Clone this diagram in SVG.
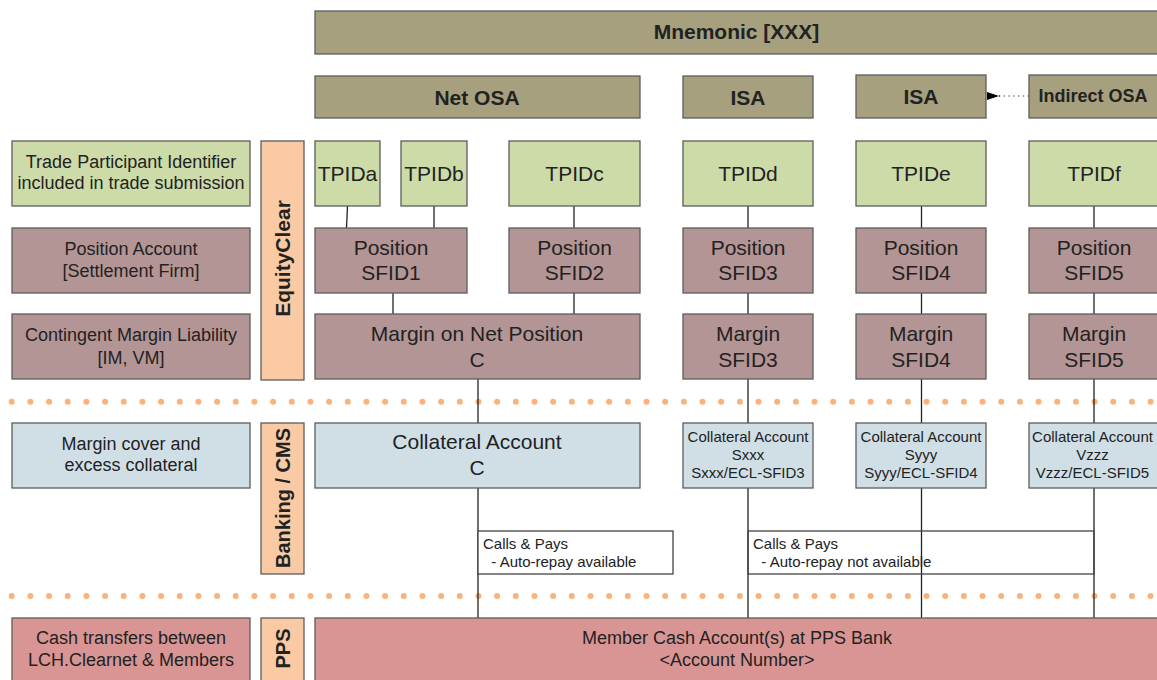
<svg xmlns="http://www.w3.org/2000/svg" width="1157" height="680" viewBox="0 0 1157 680">
<defs>
<style>
.box{stroke:#5c5c5c;stroke-width:1.3}
.olive{fill:#a6a07f}
.green{fill:#cddba9}
.mauve{fill:#b49595}
.blue{fill:#d0dfe6}
.peach{fill:#f9caa3}
.pink{fill:#d99593}
.t{font-family:"Liberation Sans",Arial,sans-serif;fill:#222;text-anchor:middle;dominant-baseline:central}
.hb{font-weight:bold;font-size:21px}
.big{font-size:21px}
.lab{font-size:18px}
.sm{font-size:15px}
.vb{font-weight:bold;font-size:20px}
.pre{text-anchor:start;white-space:pre}
.conn line{stroke:#222;stroke-width:1.3}
.dots{stroke:#f9b27b;stroke-width:6;stroke-linecap:round;stroke-dasharray:0 18.67}
</style>
<marker id="ah" viewBox="0 0 12 8" refX="0" refY="4" markerWidth="12" markerHeight="8" markerUnits="userSpaceOnUse" orient="auto">
<path d="M12,0 L0,4 L12,8 Z" fill="#000"/>
</marker>
</defs>
<rect width="1157" height="680" fill="#fff"/>

<!-- dotted separators -->
<line class="dots" x1="11.7" y1="401.7" x2="1160" y2="401.7"/>
<line class="dots" x1="11.7" y1="596" x2="1160" y2="596"/>

<!-- connectors -->
<g id="connectors" class="conn">
<line x1="347.5" y1="206" x2="346.5" y2="228"/>
<line x1="434" y1="206" x2="434" y2="228"/>
<line x1="574" y1="206" x2="574" y2="228"/>
<line x1="748" y1="206" x2="748" y2="228"/>
<line x1="921.5" y1="206" x2="921.5" y2="228"/>
<line x1="1094" y1="206" x2="1094" y2="228"/>
<line x1="393" y1="293" x2="393" y2="314"/>
<line x1="574" y1="293" x2="574" y2="314"/>
<line x1="748" y1="293" x2="748" y2="314"/>
<line x1="921.5" y1="293" x2="921.5" y2="314"/>
<line x1="1094" y1="293" x2="1094" y2="314"/>
<line x1="478" y1="379" x2="478" y2="423"/>
<line x1="748" y1="379" x2="748" y2="423"/>
<line x1="921.5" y1="379" x2="921.5" y2="423"/>
<line x1="1094" y1="379" x2="1094" y2="423"/>
<line x1="478" y1="488" x2="478" y2="618"/>
<line x1="748" y1="488" x2="748" y2="618"/>
<line x1="921.5" y1="488" x2="921.5" y2="618"/>
<line x1="1094" y1="488" x2="1094" y2="618"/>
<path d="M1029,96 L1000,96" stroke="#777" stroke-width="1.3" stroke-dasharray="1.3 3.5" fill="none"/>
<line x1="1000" y1="96" x2="999" y2="96" stroke="#000" marker-end="url(#ah)"/>
</g>

<!-- header -->
<g id="mnemonic"><rect class="box olive" x="315" y="11" width="850" height="43"/><text class="t hb" x="736.5" y="31.5">Mnemonic [XXX]</text></g>
<g id="netosa"><rect class="box olive" x="315" y="76" width="325" height="42"/><text class="t hb" x="477" y="97">Net OSA</text></g>
<g id="isa1"><rect class="box olive" x="683" y="76" width="130" height="42"/><text class="t hb" x="748" y="97">ISA</text></g>
<g id="isa2"><rect class="box olive" x="856" y="75" width="130" height="43"/><text class="t hb" x="921" y="96">ISA</text></g>
<g id="indirectosa"><rect class="box olive" x="1029" y="75" width="140" height="43"/><text class="t" style="font-weight:bold;font-size:18px" x="1093" y="96">Indirect OSA</text></g>

<!-- row labels -->
<g id="lab-tpid"><rect class="box green" x="12" y="141" width="238" height="65"/><text class="t lab" x="131" y="162">Trade Participant Identifier</text><text class="t lab" x="131" y="183">included in trade submission</text></g>
<g id="lab-pos"><rect class="box mauve" x="12" y="228" width="238" height="65"/><text class="t lab" x="131" y="248.5">Position Account</text><text class="t lab" x="131" y="271">[Settlement Firm]</text></g>
<g id="lab-margin"><rect class="box mauve" x="12" y="314" width="238" height="65"/><text class="t lab" x="131" y="335">Contingent Margin Liability</text><text class="t lab" x="131" y="357.5">[IM, VM]</text></g>
<g id="lab-coll"><rect class="box blue" x="12" y="423" width="238" height="65"/><text class="t lab" x="131" y="443.5">Margin cover and</text><text class="t lab" x="131" y="465">excess collateral</text></g>
<g id="lab-cash"><rect class="box pink" x="12" y="618" width="238" height="80"/><text class="t lab" x="131" y="638">Cash transfers between</text><text class="t lab" x="131" y="660">LCH.Clearnet &amp; Members</text></g>

<!-- vertical bars -->
<g id="bar-equityclear"><rect class="box peach" x="261" y="141" width="43" height="239"/><text class="t" style="font-weight:bold;font-size:21px" transform="translate(282.5,258.5) rotate(-90)">EquityClear</text></g>
<g id="bar-banking"><rect class="box peach" x="261" y="423" width="43" height="151"/><text class="t vb" transform="translate(282.5,498) rotate(-90)">Banking / CMS</text></g>
<g id="bar-pps"><rect class="box peach" x="261" y="618" width="43" height="80"/><text class="t vb" transform="translate(282.5,648.5) rotate(-90)">PPS</text></g>

<!-- TPIDs -->
<g id="tpida"><rect class="box green" x="315" y="141" width="65" height="65"/><text class="t big" x="347.5" y="173">TPIDa</text></g>
<g id="tpidb"><rect class="box green" x="401" y="141" width="66" height="65"/><text class="t big" x="434" y="173">TPIDb</text></g>
<g id="tpidc"><rect class="box green" x="509" y="141" width="131" height="65"/><text class="t big" x="574.5" y="173">TPIDc</text></g>
<g id="tpidd"><rect class="box green" x="683" y="141" width="130" height="65"/><text class="t big" x="748" y="173">TPIDd</text></g>
<g id="tpide"><rect class="box green" x="856" y="141" width="130" height="65"/><text class="t big" x="921" y="173">TPIDe</text></g>
<g id="tpidf"><rect class="box green" x="1029" y="141" width="140" height="65"/><text class="t big" x="1094" y="173">TPIDf</text></g>

<!-- Positions -->
<g id="pos1"><rect class="box mauve" x="315" y="228" width="152" height="65"/><text class="t big" x="391" y="247">Position</text><text class="t big" x="391" y="272">SFID1</text></g>
<g id="pos2"><rect class="box mauve" x="509" y="228" width="131" height="65"/><text class="t big" x="574.5" y="247">Position</text><text class="t big" x="574.5" y="272">SFID2</text></g>
<g id="pos3"><rect class="box mauve" x="683" y="228" width="130" height="65"/><text class="t big" x="748" y="247">Position</text><text class="t big" x="748" y="272">SFID3</text></g>
<g id="pos4"><rect class="box mauve" x="856" y="228" width="130" height="65"/><text class="t big" x="921" y="247">Position</text><text class="t big" x="921" y="272">SFID4</text></g>
<g id="pos5"><rect class="box mauve" x="1029" y="228" width="140" height="65"/><text class="t big" x="1094" y="247">Position</text><text class="t big" x="1094" y="272">SFID5</text></g>

<!-- Margins -->
<g id="marginnet"><rect class="box mauve" x="315" y="314" width="325" height="65"/><text class="t big" x="477" y="333.5">Margin on Net Position</text><text class="t big" x="477" y="359">C</text></g>
<g id="margin3"><rect class="box mauve" x="683" y="314" width="130" height="65"/><text class="t big" x="748" y="333.5">Margin</text><text class="t big" x="748" y="359">SFID3</text></g>
<g id="margin4"><rect class="box mauve" x="856" y="314" width="130" height="65"/><text class="t big" x="921" y="333.5">Margin</text><text class="t big" x="921" y="359">SFID4</text></g>
<g id="margin5"><rect class="box mauve" x="1029" y="314" width="140" height="65"/><text class="t big" x="1094" y="333.5">Margin</text><text class="t big" x="1094" y="359">SFID5</text></g>

<!-- Collateral -->
<g id="collc"><rect class="box blue" x="315" y="423" width="325" height="65"/><text class="t big" x="477" y="441">Collateral Account</text><text class="t big" x="477" y="467">C</text></g>
<g id="collsxxx"><rect class="box blue" x="683" y="423" width="130" height="65"/><text class="t sm" x="748" y="436.5">Collateral Account</text><text class="t sm" x="748" y="454.5">Sxxx</text><text class="t sm" x="748" y="472.5">Sxxx/ECL-SFID3</text></g>
<g id="collsyyy"><rect class="box blue" x="856" y="423" width="130" height="65"/><text class="t sm" x="921" y="436.5">Collateral Account</text><text class="t sm" x="921" y="454.5">Syyy</text><text class="t sm" x="921" y="472.5">Syyy/ECL-SFID4</text></g>
<g id="collvzzz"><rect class="box blue" x="1029" y="423" width="140" height="65"/><text class="t sm" x="1092.5" y="436.5">Collateral Account</text><text class="t sm" x="1092.5" y="454.5">Vzzz</text><text class="t sm" x="1092.5" y="472.5">Vzzz/ECL-SFID5</text></g>

<!-- Calls & Pays -->
<g id="calls1"><rect x="478" y="531" width="195" height="43" fill="#fff" stroke="#444" stroke-width="1.3"/><text class="t sm pre" x="483" y="543">Calls &amp; Pays</text><text class="t sm pre" x="483" y="561">  - Auto-repay available</text></g>
<g id="calls2"><rect x="748" y="531" width="346" height="43" fill="none" stroke="#444" stroke-width="1.3"/><text class="t sm pre" x="753" y="543">Calls &amp; Pays</text><text class="t sm pre" x="753" y="561">  - Auto-repay not available</text></g>

<!-- PPS -->
<g id="membercash"><rect class="box pink" x="315" y="618" width="850" height="80"/><text class="t lab" x="737" y="638">Member Cash Account(s) at PPS Bank</text><text class="t lab" x="737" y="660">&lt;Account Number&gt;</text></g>
</svg>
